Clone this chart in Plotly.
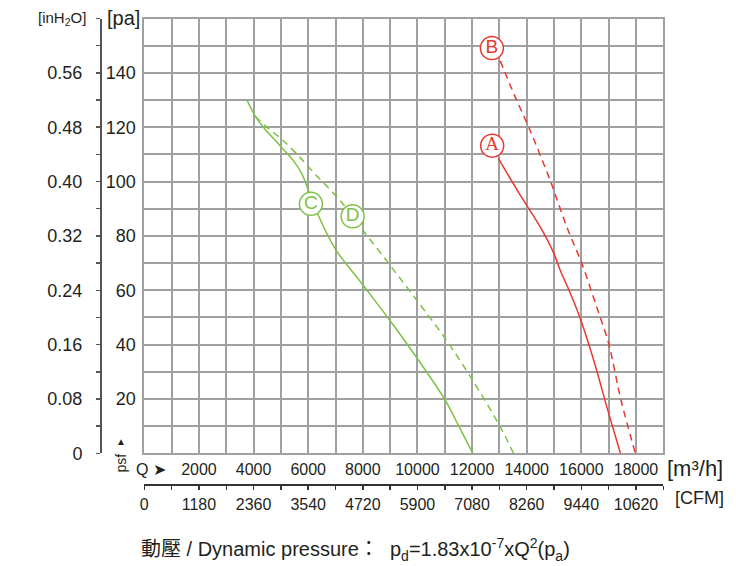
import plotly.graph_objects as go

# ---------------- data ----------------
# Curve A (solid red)
a_q = [12960, 13700, 14500, 15000, 15230, 15600, 15960, 16450, 17000, 17430]
a_p = [108.5, 96.0, 83.2, 73.4, 67.3, 58.8, 49.6, 34.3, 14.7, 0.0]
# Curve B (dashed red)
b_q = [13030, 13550, 14130, 14860, 15470, 16020, 16540, 17000, 17450, 17975]
b_p = [144.4, 131.8, 118.7, 100.4, 83.2, 69.8, 54.5, 40.4, 19.6, 0.0]
# Curve C (solid green)
c_q = [3773, 4055, 4360, 4970, 5460, 5770, 6010, 6374, 6985, 8000, 9000, 10000, 11000, 11500, 12029]
c_p = [129.7, 124.2, 120.0, 113.2, 107.7, 102.8, 96.7, 87.5, 75.3, 62.0, 48.8, 34.8, 19.8, 10.3, 0.0]
# Curve D (dashed green)
d_q = [4060, 4420, 5090, 5700, 6190, 7170, 7960, 9000, 10000, 11000, 12000, 13000, 13517]
d_p = [124.0, 120.6, 115.0, 108.9, 103.4, 93.0, 82.6, 69.2, 56.0, 42.5, 27.2, 10.3, 0.0]

# curve labels
lab_text = ["A", "B", "C", "D"]
lab_q = [12736, 12725, 6099, 7626]
lab_p = [113.2, 149.1, 91.8, 87.2]

# axis tick labels
q_tick_vals = list(range(0, 19001, 1000))
q_labels = ["2000", "4000", "6000", "8000", "10000", "12000", "14000", "16000", "18000"]
cfm_labels = ["0", "1180", "2360", "3540", "4720", "5900", "7080", "8260", "9440", "10620"]
p_tick_vals = list(range(0, 161, 10))
pa_labels = ["20", "40", "60", "80", "100", "120", "140"]
inh2o_labels = ["0", "0.08", "0.16", "0.24", "0.32", "0.40", "0.48", "0.56"]

RED = "#e8392f"
GREEN = "#7dc243"
GRID = "#a0a0a0"
TXT = "#231f20"
FONT = "Liberation Sans, Arial, sans-serif"

# ---------------- geometry helpers ----------------
W, H = 736, 566
L, R, T, B = 30, 8, 18, 10
PW, PH = W - L - R, H - T - B


def px(x):
    return (x - L) / PW


def py(y):
    return (H - B - y) / PH


def q_text(v):
    if v != 0 and v % 2000 == 0:
        return q_labels[v // 2000 - 1]
    return " "


def cfm_text(v):
    if v % 2000 == 0:
        return cfm_labels[v // 2000]
    return " "


def pa_text(v):
    if v != 0 and v % 20 == 0 and v <= 140:
        return pa_labels[v // 20 - 1]
    return " "


def in_text(v):
    if v % 20 == 0 and v <= 140:
        return inh2o_labels[v // 20]
    return " "


fig = go.Figure()

fig.add_trace(go.Scatter(x=c_q, y=c_p, mode="lines", line=dict(color=GREEN, width=1.5, shape="spline", smoothing=0.9),
                         hoverinfo="skip", showlegend=False))
fig.add_trace(go.Scatter(x=d_q, y=d_p, mode="lines", line=dict(color=GREEN, width=1.5, dash="7px,5px", shape="spline", smoothing=0.9),
                         hoverinfo="skip", showlegend=False))
fig.add_trace(go.Scatter(x=a_q, y=a_p, mode="lines", line=dict(color=RED, width=1.5, shape="spline", smoothing=0.8),
                         hoverinfo="skip", showlegend=False))
fig.add_trace(go.Scatter(x=b_q, y=b_p, mode="lines", line=dict(color=RED, width=1.5, dash="7px,5px", shape="spline", smoothing=0.8),
                         hoverinfo="skip", showlegend=False))

lab_colors = [RED, RED, GREEN, GREEN]
lab_fonts = ["Liberation Serif, serif", FONT, FONT, FONT]
for t, q, p, c, f in zip(lab_text, lab_q, lab_p, lab_colors, lab_fonts):
    fig.add_trace(go.Scatter(x=[q], y=[p], mode="markers+text", text=[t], textposition="middle center",
                             marker=dict(symbol="circle", size=23, color="white", line=dict(color=c, width=1.5)),
                             textfont=dict(family=f, size=19, color=c),
                             hoverinfo="skip", showlegend=False))

# invisible traces for secondary axes
fig.add_trace(go.Scatter(x=[0], y=[0], xaxis="x2", yaxis="y", mode="markers", marker=dict(opacity=0),
                         hoverinfo="skip", showlegend=False))
fig.add_trace(go.Scatter(x=[0], y=[0], xaxis="x", yaxis="y2", mode="markers", marker=dict(opacity=0),
                         hoverinfo="skip", showlegend=False))

x_dom = [px(144.3), px(663.3)]
y_dom = [py(453.3), py(18.5)]

fig.update_layout(
    width=W, height=H,
    margin=dict(l=L, r=R, t=T, b=B, autoexpand=False),
    paper_bgcolor="white", plot_bgcolor="white",
    font=dict(family=FONT, color=TXT),
    xaxis=dict(domain=x_dom, range=[0, 19000], tickmode="array", tickvals=q_tick_vals,
               ticktext=[q_text(v) for v in q_tick_vals], showgrid=True, gridcolor=GRID, gridwidth=2,
               showline=True, linecolor=GRID, linewidth=2, mirror=True, ticks="", zeroline=False,
               tickfont=dict(size=16, color=TXT), ticklabelstandoff=0, fixedrange=True, automargin=False),
    yaxis=dict(domain=y_dom, range=[0, 160], tickmode="array", tickvals=p_tick_vals,
               ticktext=[pa_text(v) for v in p_tick_vals], showgrid=True, gridcolor=GRID, gridwidth=2,
               showline=True, linecolor=GRID, linewidth=2, mirror=True, ticks="", zeroline=False,
               tickfont=dict(size=18, color=TXT), ticklabelstandoff=3, fixedrange=True, automargin=False),
    xaxis2=dict(overlaying="x", anchor="free", position=py(484), side="bottom", range=[0, 19000],
                tickmode="array", tickvals=q_tick_vals, ticktext=[cfm_text(v) for v in q_tick_vals],
                showgrid=False, zeroline=False, showline=True, linecolor="#333333", linewidth=1.5,
                ticks="outside", ticklen=4, tickwidth=1.5, tickcolor="#333333",
                tickfont=dict(size=16, color=TXT), ticklabelstandoff=1, fixedrange=True, automargin=False),
    yaxis2=dict(overlaying="y", anchor="free", position=px(100), side="left", range=[0, 160],
                tickmode="array", tickvals=p_tick_vals, ticktext=[in_text(v) for v in p_tick_vals],
                showgrid=False, zeroline=False, showline=True, linecolor="#555555", linewidth=1.5,
                ticks="outside", ticklen=4, tickwidth=1.5, tickcolor="#555555",
                tickfont=dict(size=18, color=TXT), ticklabelstandoff=10, fixedrange=True, automargin=False),
)

ann = [
    dict(text="[pa]", x=px(123.5), y=py(18), font=dict(size=20)),
    dict(text="[inH<sub>2</sub>O]", x=px(62), y=py(18), font=dict(size=15)),
    dict(text="[m³/h]", x=px(695), y=py(468), font=dict(size=22)),
    dict(text="[CFM]", x=px(699), y=py(498), font=dict(size=18)),
    dict(text="Q ➤", x=px(151), y=py(469), font=dict(size=16)),
    dict(text="psf", x=px(120.5), y=py(463), font=dict(size=14), textangle=-90),
    dict(text="▲", x=px(121.5), y=py(441), font=dict(size=10)),
    dict(text="動壓 / Dynamic pressure：  p<sub>d</sub>=1.83x10<sup>-7</sup>xQ<sup>2</sup>(p<sub>a</sub>)",
         x=px(139), y=py(549), xanchor="left", font=dict(size=20, family="Liberation Sans, Noto Sans CJK TC, sans-serif")),
]
for a in ann:
    a.setdefault("xanchor", "center")
    a.update(xref="paper", yref="paper", showarrow=False, yanchor="middle")
    a["font"].setdefault("color", TXT)
    a["font"].setdefault("family", FONT)
    fig.add_annotation(**a)

fig.write_html("out.html", config={"displayModeBar": False, "staticPlot": True},
               post_script="document.body.style.margin='0';document.body.style.overflow='hidden';")
